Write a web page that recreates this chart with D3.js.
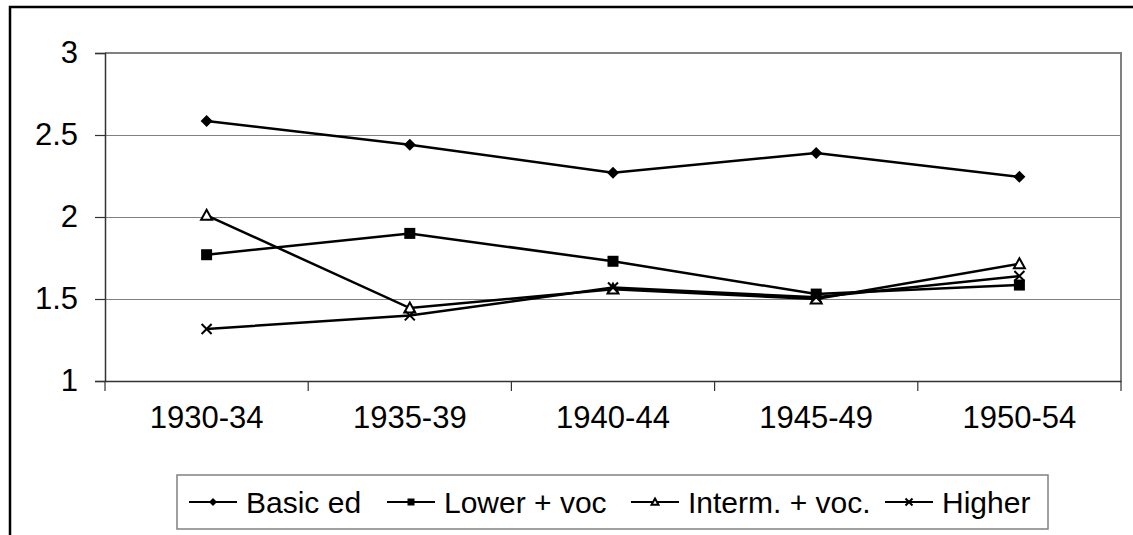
<!DOCTYPE html>
<html>
<head>
<meta charset="utf-8">
<script src="https://cdn.jsdelivr.net/npm/d3@7"></script>
<style>
  body { margin: 0; background: #fff; }
  svg text { font-family: "Liberation Sans", Arial, sans-serif; fill: #000; }
</style>
</head>
<body>
<div id="chart"></div>
<script>
// data
var periods = ["1930-34", "1935-39", "1940-44", "1945-49", "1950-54"];
var basicEd = [2.585, 2.44, 2.27, 2.39, 2.245];
var lowerVoc = [1.77, 1.90, 1.73, 1.53, 1.585];
var intermVoc = [2.01, 1.445, 1.56, 1.50, 1.715];
var higher = [1.317, 1.40, 1.57, 1.51, 1.64];
var seriesNames = ["Basic ed", "Lower + voc", "Interm. + voc.", "Higher"];
var yTicks = [1, 1.5, 2, 2.5, 3];

var series = [
  {name: seriesNames[0], values: basicEd, marker: "diamond"},
  {name: seriesNames[1], values: lowerVoc, marker: "square"},
  {name: seriesNames[2], values: intermVoc, marker: "triangle"},
  {name: seriesNames[3], values: higher, marker: "cross"}
];

var svgWidth = 1133;
var svgHeight = 535;

var plot = {left: 105, top: 53, right: 1121, bottom: 381};

var svg = d3.select("#chart")
  .append("svg")
  .attr("width", svgWidth)
  .attr("height", svgHeight);

// outer chart border (cropped at right / bottom)
svg.append("path")
  .attr("d", "M10,1200 L10,7 L1200,7")
  .attr("fill", "none")
  .attr("stroke", "#000")
  .attr("stroke-width", 2.5);

var xScale = d3.scaleBand()
  .domain(periods)
  .range([plot.left, plot.right]);

var yScale = d3.scaleLinear()
  .domain([1, 3])
  .range([plot.bottom, plot.top]);

// gridlines
svg.append("g")
  .selectAll("line")
  .data(yTicks.filter(d => d > 1 && d < 3))
  .enter()
  .append("line")
  .attr("x1", plot.left)
  .attr("x2", plot.right)
  .attr("y1", d => Math.round(yScale(d)) + 0.5)
  .attr("y2", d => Math.round(yScale(d)) + 0.5)
  .attr("stroke", "#808080")
  .attr("stroke-width", 1);

// plot area border top + right
svg.append("path")
  .attr("d", `M${plot.left},${plot.top} L${plot.right},${plot.top} L${plot.right},${plot.bottom}`)
  .attr("fill", "none")
  .attr("stroke", "#808080")
  .attr("stroke-width", 2);

// y axis
var yAxis = d3.axisLeft(yScale)
  .tickValues(yTicks)
  .tickSize(10)
  .tickPadding(17)
  .tickFormat(d3.format("~g"));

var yG = svg.append("g")
  .attr("transform", `translate(${plot.left}, 0)`)
  .call(yAxis);
yG.select(".domain").attr("stroke", "#333").attr("stroke-width", 1.5);
yG.selectAll(".tick line").attr("stroke", "#333").attr("stroke-width", 1.2);
yG.selectAll("text")
  .style("font-size", "31px")
  .attr("font-family", null);

// x axis
var xAxis = d3.axisBottom(xScale)
  .tickSize(0)
  .tickPadding(25);

var xG = svg.append("g")
  .attr("transform", `translate(0, ${plot.bottom})`)
  .call(xAxis);
xG.select(".domain").attr("stroke", "#333").attr("stroke-width", 1.5);
xG.selectAll("text")
  .style("font-size", "31px")
  .attr("font-family", null);

// x tick marks at category boundaries
var bounds = periods.map(p => xScale(p)).concat([xScale.range()[1]]);
xG.selectAll(".bound")
  .data(bounds)
  .enter()
  .append("line")
  .attr("x1", d => d)
  .attr("x2", d => d)
  .attr("y1", 0)
  .attr("y2", 10)
  .attr("stroke", "#333")
  .attr("stroke-width", 1.2);

// markers
function drawMarker(g, type, size) {
  var s = size;
  if (type === "diamond") {
    g.append("path")
      .attr("d", `M0,${-s} L${s},0 L0,${s} L${-s},0 Z`)
      .attr("fill", "#000");
  } else if (type === "square") {
    g.append("rect")
      .attr("x", -s).attr("y", -s)
      .attr("width", 2 * s).attr("height", 2 * s)
      .attr("fill", "#000");
  } else if (type === "triangle") {
    g.append("path")
      .attr("d", `M0,${-s} L${s},${s * 0.8} L${-s},${s * 0.8} Z`)
      .attr("fill", "#fff")
      .attr("stroke", "#000")
      .attr("stroke-width", 2);
  } else if (type === "cross") {
    g.append("path")
      .attr("d", `M${-s},${-s} L${s},${s} M${-s},${s} L${s},${-s}`)
      .attr("stroke", "#000")
      .attr("stroke-width", 2);
  }
}

var line = d3.line()
  .x((d, i) => xScale(periods[i]) + xScale.bandwidth() / 2)
  .y(d => yScale(d));

series.forEach(function(s) {
  svg.append("path")
    .datum(s.values)
    .attr("d", line)
    .attr("fill", "none")
    .attr("stroke", "#000")
    .attr("stroke-width", 2.5);
});

series.forEach(function(s) {
  s.values.forEach(function(v, i) {
    var g = svg.append("g")
      .attr("transform", `translate(${xScale(periods[i]) + xScale.bandwidth() / 2}, ${yScale(v)})`);
    var size = s.marker === "diamond" ? 6 : s.marker === "square" ? 5.5 : s.marker === "triangle" ? 5.5 : 5;
    drawMarker(g, s.marker, size);
  });
});

// legend
var legend = {left: 177, top: 475, right: 1048, bottom: 529};
svg.append("rect")
  .attr("x", legend.left)
  .attr("y", legend.top)
  .attr("width", legend.right - legend.left)
  .attr("height", legend.bottom - legend.top)
  .attr("fill", "#fff")
  .attr("stroke", "#808080")
  .attr("stroke-width", 1.5);

var legendX = [189, 387, 631, 885];
var legendY = 502;

series.forEach(function(s, i) {
  var g = svg.append("g")
    .attr("transform", `translate(${legendX[i]}, ${legendY})`);
  g.append("line")
    .attr("x1", 0).attr("x2", 48)
    .attr("y1", 0).attr("y2", 0)
    .attr("stroke", "#000")
    .attr("stroke-width", 2);
  var m = g.append("g").attr("transform", "translate(24, 0)");
  drawMarker(m, s.marker, s.marker === "diamond" ? 4 : 3.5);
  g.append("text")
    .attr("x", 57)
    .attr("y", 0)
    .attr("dy", "0.35em")
    .style("font-size", "30px")
    .text(s.name);
});
</script>
</body>
</html>
